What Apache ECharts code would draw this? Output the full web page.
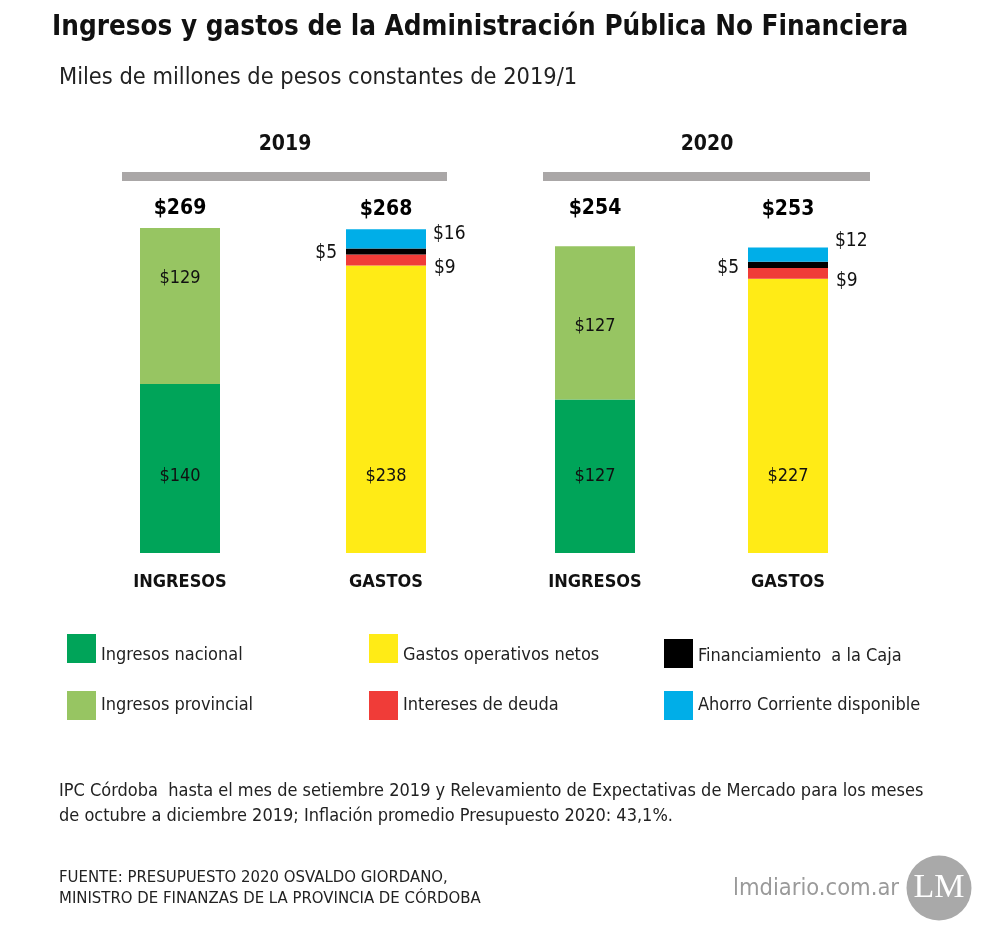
<!DOCTYPE html>
<html><head><meta charset="utf-8">
<script src="https://cdn.jsdelivr.net/npm/echarts@6/dist/echarts.min.js"></script>
<style>html,body{margin:0;padding:0;background:#fff}#c{width:1001px;height:947px}</style>
</head><body><div id="c"></div>
<script>
const categories = ["INGRESOS", "GASTOS"];
const years = ["2019", "2020"];
const ingresosNacional = [140, 127];
const ingresosProvincial = [129, 127];
const gastosOperativos = [238, 227];
const interesesDeuda = [9, 9];
const financiamientoCaja = [5, 5];
const ahorroCorriente = [16, 12];
const totalesIngresos = [269, 254];
const totalesGastos = [268, 253];

const FONT = '"Liberation Sans Narrow","DejaVu Sans Condensed","Noto Sans",sans-serif';
const chart = echarts.init(document.getElementById('c'), null, {renderer: 'canvas'});

const grids = [
  {left: 77, width: 412, top: 190.6, height: 362.4},
  {left: 498.5, width: 386, top: 190.6, height: 362.4}
];
const provOffsets = [{position: 'insideTop', distance: 41}, {position: 'insideTop', distance: 71}];
const blueOff = [[0, -5], [0, -14]];
const blackOff = [[0, 1], [0, 3]];
const redOff = [[0, 8], [0, 8]];
const totalDist = [[9, 9], [27, 27]];

const lblBase = {show: true, color: '#111', fontFamily: FONT, fontSize: 18, formatter: p => '$' + p.value};
const series = [];
years.forEach((y, i) => {
  const ax = {xAxisIndex: i, yAxisIndex: i, stack: 's' + i, type: 'bar', barWidth: 80};
  series.push(Object.assign({}, ax, {name: 'Ingresos nacional', data: [ingresosNacional[i], '-'],
    itemStyle: {color: '#00a459'}, label: Object.assign({}, lblBase, {position: 'insideBottom', distance: 68})}));
  series.push(Object.assign({}, ax, {name: 'Ingresos provincial', data: [ingresosProvincial[i], '-'],
    itemStyle: {color: '#97c562'}, label: Object.assign({}, lblBase, provOffsets[i])}));
  series.push(Object.assign({}, ax, {name: 'Gastos operativos netos', data: ['-', gastosOperativos[i]],
    itemStyle: {color: '#ffeb16'}, label: Object.assign({}, lblBase, {position: 'insideBottom', distance: 68})}));
  series.push(Object.assign({}, ax, {name: 'Intereses de deuda', data: ['-', interesesDeuda[i]],
    itemStyle: {color: '#f03c38'}, label: Object.assign({}, lblBase, {position: 'right', distance: 8, offset: redOff[i], fontSize: 19})}));
  series.push(Object.assign({}, ax, {name: 'Financiamiento  a la Caja', data: ['-', financiamientoCaja[i]],
    itemStyle: {color: '#000000'}, label: Object.assign({}, lblBase, {position: 'left', distance: 9, offset: blackOff[i], fontSize: 19})}));
  series.push(Object.assign({}, ax, {name: 'Ahorro Corriente disponible', data: ['-', ahorroCorriente[i]],
    itemStyle: {color: '#00aee8'}, label: Object.assign({}, lblBase, {position: 'right', distance: 7, offset: blueOff[i], fontSize: 19})}));
  series.push({type: 'scatter', xAxisIndex: i, yAxisIndex: i, silent: true, symbolSize: 0.01,
    itemStyle: {color: '#ffffff', opacity: 1},
    data: [
      {value: totalesIngresos[i], label: {distance: totalDist[i][0]}},
      {value: totalesGastos[i], label: {distance: totalDist[i][1]}}
    ],
    label: {show: true, position: 'top', color: '#000', opacity: 1, fontFamily: FONT, fontWeight: 'bold', fontSize: 21, formatter: p => '$' + p.value}});
});

const legendCommon = {orient: 'vertical', icon: 'rect', itemWidth: 29, itemHeight: 29, selectedMode: false, padding: 0,
  textStyle: {fontFamily: FONT, fontSize: 18, color: '#222'}};
const row1Rich = {formatter: '{t|{name}}', textStyle: {fontFamily: FONT, fontSize: 18, color: '#222',
  rich: {t: {fontFamily: FONT, fontSize: 18, color: '#222', padding: [13, 0, 0, 0]}}}};
function leg(name, left, top, extra) {
  return Object.assign({}, legendCommon, {left: left, top: top, data: [name]}, extra || {});
}

const tPad = {padding: 0};
const option = {
  animation: false,
  backgroundColor: '#fff',
  title: [
    Object.assign({text: 'Ingresos y gastos de la Administración Pública No Financiera', left: 52, top: 14,
      textStyle: {fontFamily: FONT, fontWeight: 'bold', fontSize: 27.6, color: '#111'}}, tPad),
    Object.assign({text: 'Miles de millones de pesos constantes de 2019/1', left: 59, top: 66,
      textStyle: {fontFamily: FONT, fontWeight: 'normal', fontSize: 23.4, color: '#222'}}, tPad),
    Object.assign({text: years[0], left: 285, top: 134, textAlign: 'center',
      textStyle: {fontFamily: FONT, fontWeight: 'bold', fontSize: 21, color: '#111'}}, tPad),
    Object.assign({text: years[1], left: 707, top: 134, textAlign: 'center',
      textStyle: {fontFamily: FONT, fontWeight: 'bold', fontSize: 21, color: '#111'}}, tPad),
    Object.assign({text: 'IPC Córdoba  hasta el mes de setiembre 2019 y Relevamiento de Expectativas de Mercado para los meses\nde octubre a diciembre 2019; Inflación promedio Presupuesto 2020: 43,1%.', left: 59, top: 779,
      textStyle: {fontFamily: FONT, fontWeight: 'normal', fontSize: 18, lineHeight: 25, color: '#222'}}, tPad),
    Object.assign({text: 'FUENTE: PRESUPUESTO 2020 OSVALDO GIORDANO,\nMINISTRO DE FINANZAS DE LA PROVINCIA DE CÓRDOBA', left: 59, top: 867,
      textStyle: {fontFamily: FONT, fontWeight: 'normal', fontSize: 16.6, lineHeight: 21, color: '#222'}}, tPad),
    Object.assign({text: 'lmdiario.com.ar', left: 733, top: 877,
      textStyle: {fontFamily: FONT, fontWeight: 'normal', fontSize: 23.5, color: '#9a9a9a'}}, tPad)
  ],
  graphic: [
    {type: 'rect', shape: {x: 122, y: 172, width: 325, height: 9}, style: {fill: '#aaa7a7'}},
    {type: 'rect', shape: {x: 543, y: 172, width: 327, height: 9}, style: {fill: '#aaa7a7'}},
    {type: 'circle', shape: {cx: 939, cy: 888, r: 32.5}, style: {fill: '#a9a9a9'}},
    {type: 'text', x: 939, y: 888, style: {text: 'LM', fill: '#fff', font: '34px "Liberation Serif","DejaVu Serif",serif', textAlign: 'center', textVerticalAlign: 'middle'}}
  ],
  legend: [
    leg('Ingresos nacional', 67, 634, row1Rich),
    leg('Ingresos provincial', 67, 691),
    leg('Gastos operativos netos', 369, 634, row1Rich),
    leg('Intereses de deuda', 369, 691),
    leg('Financiamiento  a la Caja', 664, 639, {formatter: '{t|{name}}', textStyle: {fontFamily: FONT, fontSize: 18, color: '#222',
      rich: {t: {fontFamily: FONT, fontSize: 18, color: '#222', padding: [5, 0, 0, 0]}}}}),
    leg('Ahorro Corriente disponible', 664, 691)
  ],
  grid: grids,
  xAxis: years.map((y, i) => ({type: 'category', gridIndex: i, data: categories,
    axisLine: {show: false}, axisTick: {show: false},
    axisLabel: {margin: 20, color: '#111', fontFamily: FONT, fontWeight: 'bold', fontSize: 18}})),
  yAxis: years.map((y, i) => ({type: 'value', gridIndex: i, min: 0, max: 300, show: false, splitLine: {show: false}})),
  series: series
};
chart.setOption(option);
</script></body></html>
